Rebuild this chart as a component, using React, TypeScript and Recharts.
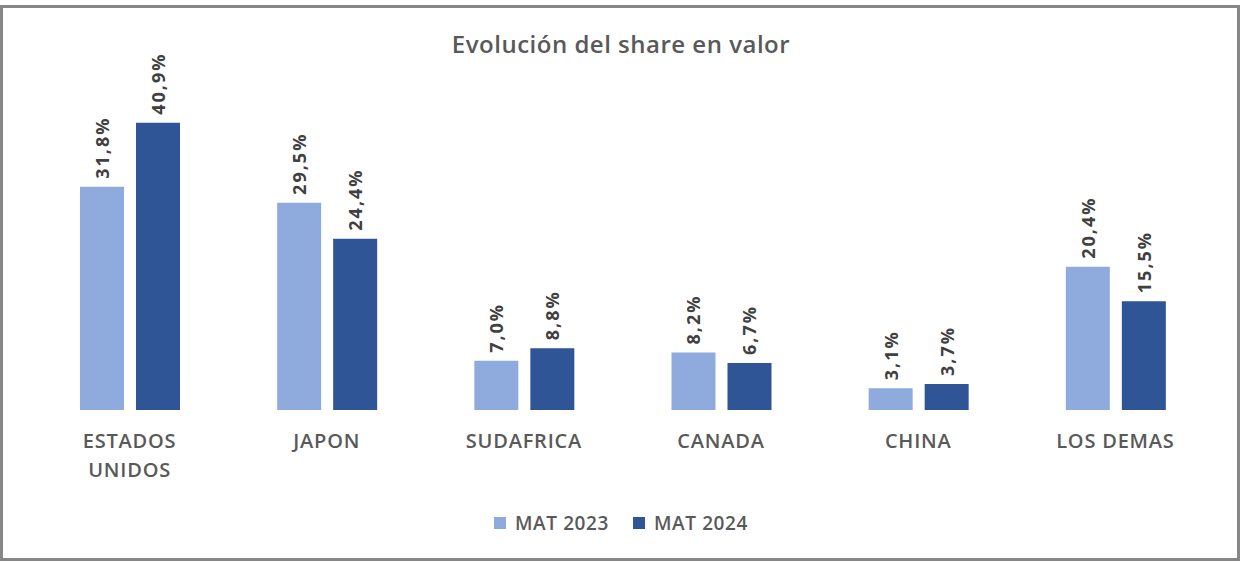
import React from 'react';
import { BarChart, Bar, XAxis, YAxis, Legend, Text } from 'recharts';

const categories = ['ESTADOS UNIDOS', 'JAPON', 'SUDAFRICA', 'CANADA', 'CHINA', 'LOS DEMAS'];
const mat2023 = [31.8, 29.5, 7.0, 8.2, 3.1, 20.4];
const mat2024 = [40.9, 24.4, 8.8, 6.7, 3.7, 15.5];
const seriesNames = ['MAT 2023', 'MAT 2024'];

const data = categories.map((name, i) => ({ name, a: mat2023[i], b: mat2024[i] }));

const FONT = '"Open Sans", "DejaVu Sans", sans-serif';
const GRAY = '#595959';

const fmt = (v: number) => v.toFixed(1).replace('.', ',') + '%';

const RotLabel = (props: any) => {
  const { x, y, width, value } = props;
  const cx = x + width / 2;
  const ty = y - 8;
  return (
    <text
      x={cx}
      y={ty}
      transform={`rotate(-90 ${cx} ${ty})`}
      textAnchor="start"
      dominantBaseline="central"
      fill="#404040"
      fontFamily={FONT}
      fontWeight={700}
      fontSize={18}
      letterSpacing={2}
    >
      {fmt(value)}
    </text>
  );
};

const Tick = (props: any) => {
  const { x, y, payload } = props;
  return (
    <Text
      x={x}
      y={y + 16}
      width={120}
      textAnchor="middle"
      verticalAnchor="start"
      lineHeight={29}
      fill={GRAY}
      fontFamily={FONT}
      fontWeight={600}
      fontSize={20}
      letterSpacing={0.8}
    >
      {payload.value}
    </Text>
  );
};

const LegendContent = (props: any) => {
  const { payload } = props;
  return (
    <div style={{ display: 'flex', justifyContent: 'center', gap: 24, fontFamily: FONT }}>
      {(payload || []).map((p: any) => (
        <div key={p.value} style={{ display: 'flex', alignItems: 'center' }}>
          <span style={{ width: 12, height: 12, background: p.color, display: 'inline-block', marginRight: 9 }} />
          <span style={{ color: GRAY, fontSize: 19, fontWeight: 600, letterSpacing: 0.6 }}>{p.value}</span>
        </div>
      ))}
    </div>
  );
};

export default function App() {
  return (
    <div style={{ position: 'absolute', left: 0, top: 0, width: 1242, height: 563, background: '#fff' }}>
      <div
        style={{
          position: 'absolute',
          left: 0,
          top: 5,
          width: 1240,
          height: 556,
          border: '3px solid #878787',
          boxSizing: 'border-box',
        }}
      />
      <div
        style={{
          position: 'absolute',
          left: 0,
          top: 27,
          width: 1242,
          textAlign: 'center',
          fontFamily: FONT,
          fontWeight: 600,
          fontSize: 24,
          letterSpacing: 0.5,
          color: GRAY,
        }}
      >
        Evolución del share en valor
      </div>
      <div style={{ position: 'absolute', left: 0, top: 0 }}>
        <BarChart
          width={1242}
          height={563}
          data={data}
          margin={{ top: 80, right: 28, left: 31, bottom: 0 }}
          barGap={12}
        >
          <XAxis
            dataKey="name"
            axisLine={false}
            tickLine={false}
            interval={0}
            tick={<Tick />}
            height={153}
          />
          <YAxis hide domain={[0, 47]} />
          <Legend
            verticalAlign="middle"
            align="center"
            layout="horizontal"
            wrapperStyle={{ top: 510, left: 0, width: 1242 }}
            content={<LegendContent />}
          />
          <Bar dataKey="a" name={seriesNames[0]} fill="#8FAADC" barSize={44} isAnimationActive={false} label={<RotLabel />} />
          <Bar dataKey="b" name={seriesNames[1]} fill="#2F5597" barSize={44} isAnimationActive={false} label={<RotLabel />} />
        </BarChart>
      </div>
    </div>
  );
}
